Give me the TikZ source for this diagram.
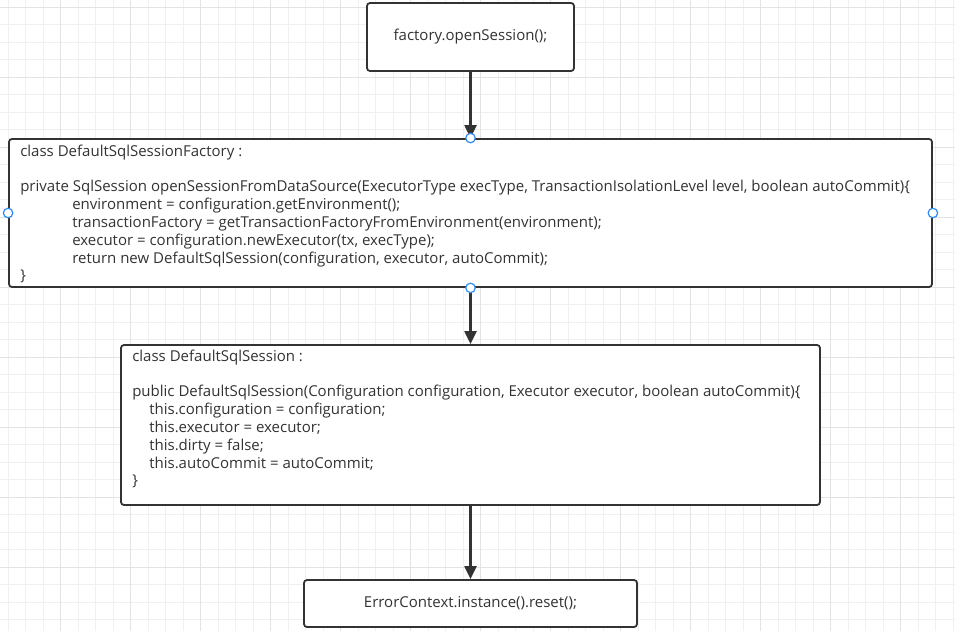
\documentclass[tikz,border=0pt]{standalone}
\usepackage{fontspec}
\setmainfont{Open Sans}
\usetikzlibrary{arrows.meta,positioning}
\definecolor{tinta}{HTML}{333333}
\definecolor{rejilla}{HTML}{F0F0F0}
\definecolor{rejillab}{HTML}{E3E3E3}
\definecolor{asa}{HTML}{2F8CF2}

\begin{document}
\begin{tikzpicture}[x=1pt,y=-1pt,
  box/.style={draw=tinta,line width=1.8pt,rounded corners=3pt,fill=white,inner sep=0pt,
    text=tinta,font=\fontsize{15}{17.8}\selectfont},
  code/.style={inner sep=0pt,align=left,text=tinta,font=\fontsize{15}{17.8}\selectfont},
  arr/.style={-{Triangle[length=13pt,width=12pt]},line width=2.2pt,draw=tinta},
  handle/.style={circle,draw=asa,fill=white,line width=1.2pt,minimum size=9.5pt,inner sep=0pt}]
  \useasboundingbox (0,0) rectangle (955,631);
  % background grid
  \foreach \i in {0,...,54} \draw[rejilla,line width=0.8pt] (8.2+17.5*\i,0) -- (8.2+17.5*\i,631);
  \foreach \j in {0,...,35} \draw[rejilla,line width=0.8pt] (0,7+17.5*\j) -- (955,7+17.5*\j);
  \foreach \i in {0,...,12} \draw[rejillab,line width=0.8pt] (60.7+70*\i,0) -- (60.7+70*\i,631);
  \foreach \j in {0,...,8} \draw[rejillab,line width=0.8pt] (0,7+70*\j) -- (955,7+70*\j);

  % boxes
  \node[box,minimum width=207pt,minimum height=68pt] (open) at (470.5,37) {factory.openSession();};
  \node[box,minimum width=923pt,minimum height=148pt] (factory) at (470.5,213) {};
  \node[box,minimum width=699pt,minimum height=160pt] (session) at (470.5,425) {};
  \node[box,minimum width=333pt,minimum height=47pt] (reset) at (470.5,603.5) {ErrorContext.instance().reset();};

  \node[code,anchor=north west] (factorytxt) at ([xshift=12pt,yshift=-6.5pt]factory.north west)
   {class DefaultSqlSessionFactory :\\
    \strut\\
    private SqlSession openSessionFromDataSource(ExecutorType execType, TransactionIsolationLevel level, boolean autoCommit)\{\\
    \hspace*{52pt}environment = configuration.getEnvironment();\\
    \hspace*{52pt}transactionFactory = getTransactionFactoryFromEnvironment(environment);\\
    \hspace*{52pt}executor = configuration.newExecutor(tx, execType);\\
    \hspace*{52pt}return new DefaultSqlSession(configuration, executor, autoCommit);\\
    \}};
  \node[code,anchor=north west] (sessiontxt) at ([xshift=12pt,yshift=-5.5pt]session.north west)
   {class DefaultSqlSession :\\
    \strut\\
    public DefaultSqlSession(Configuration configuration, Executor executor, boolean autoCommit)\{\\
    \hspace*{17pt}this.configuration = configuration;\\
    \hspace*{17pt}this.executor = executor;\\
    \hspace*{17pt}this.dirty = false;\\
    \hspace*{17pt}this.autoCommit = autoCommit;\\
    \}};

  % connectors
  \draw[arr] (open) -- (factory);
  \draw[arr] (factory) -- (session);
  \draw[arr] (session) -- (reset);

  % selection handles
  \node[handle] (hn) at (factory.north) {};
  \node[handle] (hs) at (factory.south) {};
  \node[handle] (hw) at (factory.west) {};
  \node[handle] (he) at (factory.east) {};
\end{tikzpicture}
\end{document}
